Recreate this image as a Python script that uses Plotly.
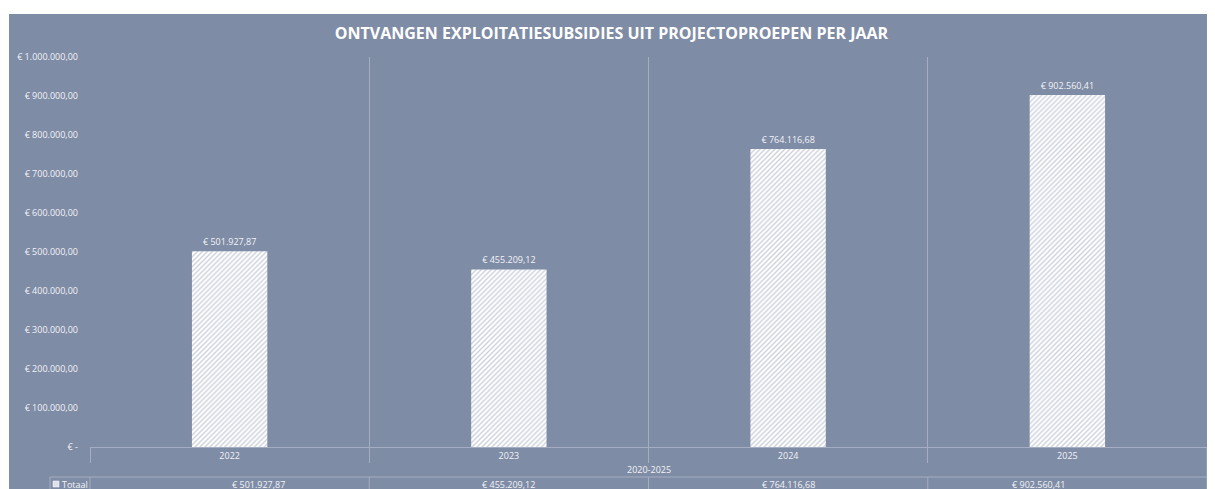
import plotly.graph_objects as go

categories = ["2022", "2023", "2024", "2025"]
values = [501927.87, 455209.12, 764116.68, 902560.41]
y_ticks = [0, 100000, 200000, 300000, 400000, 500000, 600000, 700000, 800000, 900000, 1000000]
group_label = "2020-2025"
series_name = "Totaal"
title_text = "ONTVANGEN EXPLOITATIESUBSIDIES UIT PROJECTOPROEPEN PER JAAR"


def euro(v):
    if v == 0:
        return "€ -"
    s = f"{v:,.2f}"
    s = s.replace(",", "X").replace(".", ",").replace("X", ".")
    return "€ " + s


PANEL = "#7F8CA6"
GRID = "#A4ADC1"
TXT = "#F2F3F6"
FONT = "Open Sans"

# page renders figure at an 8px body offset
OFF = 8
W, H = 1215 - OFF, 489 - OFF
PL, PR, PT, PB = 90, 1207, 57, 447  # plot area in reference pixels
L, R, T, B = PL - OFF, (1215 - PR), PT - OFF, (489 - PB)
pw = PR - PL
ph = PB - PT


def px_x(px):
    return (px - PL) / pw


def px_y(py):
    return (PB - py) / ph


fig = go.Figure()
fig.add_trace(go.Bar(
    x=categories, y=values, name=series_name,
    width=0.27,
    marker=dict(color="#FFFFFF", line=dict(width=0),
                pattern=dict(shape="/", fgcolor="#98A2B8", size=3.5, solidity=0.4)),
    text=[euro(v) for v in values], textposition="outside",
    textfont=dict(size=9, color=TXT, family=FONT),
    cliponaxis=False,
))

shapes = []
shapes.append(dict(type="rect", xref="paper", yref="paper",
                   x0=px_x(9), x1=px_x(1230), y0=px_y(500), y1=px_y(14),
                   fillcolor=PANEL, line=dict(width=0), layer="below"))
n = len(categories)
shapes.append(dict(type="line", xref="paper", yref="paper",
                   x0=px_x(50), x1=1, y0=px_y(477), y1=px_y(477),
                   line=dict(color=GRID, width=1)))
for i in range(n + 1):
    shapes.append(dict(type="line", xref="paper", yref="paper",
                       x0=i / n, x1=i / n, y0=px_y(477), y1=px_y(495),
                       line=dict(color=GRID, width=1)))
shapes.append(dict(type="line", xref="paper", yref="paper",
                   x0=px_x(50), x1=px_x(50), y0=px_y(477), y1=px_y(495),
                   line=dict(color=GRID, width=1)))
shapes.append(dict(type="line", xref="paper", yref="paper",
                   x0=1, x1=1, y0=0, y1=px_y(477),
                   line=dict(color=GRID, width=1)))
shapes.append(dict(type="rect", xref="paper", yref="paper",
                   x0=px_x(53), x1=px_x(59), y0=px_y(487), y1=px_y(481),
                   fillcolor="#DDE1E8", line=dict(color="#FFFFFF", width=0.5)))

annotations = []
annotations.append(dict(text=group_label, xref="paper", yref="paper",
                        x=0.5, y=px_y(469), showarrow=False,
                        font=dict(size=9, color=TXT, family=FONT), yanchor="middle"))
annotations.append(dict(text=series_name, xref="paper", yref="paper",
                        x=px_x(60), y=px_y(484), showarrow=False, xanchor="left",
                        font=dict(size=9, color=TXT, family=FONT), yanchor="middle"))
for i, v in enumerate(values):
    annotations.append(dict(text=euro(v), xref="paper", yref="paper",
                            x=(i + 0.5) / n, y=px_y(484), showarrow=False,
                            font=dict(size=9, color=TXT, family=FONT), yanchor="middle"))

fig.update_layout(
    width=W, height=H,
    margin=dict(l=L, r=R, t=T, b=B, pad=0),
    paper_bgcolor="#FFFFFF",
    plot_bgcolor="rgba(0,0,0,0)",
    showlegend=False,
    title=dict(text="<b>" + title_text + "</b>", x=0.5, xref="container", xanchor="center",
               y=1 - (33 - OFF) / H, yanchor="middle",
               font=dict(size=16, color="#FFFFFF", family=FONT)),
    xaxis=dict(type="category", tickson="boundaries", showgrid=True, gridcolor=GRID,
               gridwidth=1, ticks="outside", ticklen=15, tickcolor=GRID,
               showline=True, linecolor=GRID, linewidth=1,
               tickfont=dict(size=9, color=TXT, family=FONT),
               range=[-0.5, n - 0.5], fixedrange=True),
    yaxis=dict(range=[0, 1000000], tickvals=y_ticks, ticktext=[euro(v) for v in y_ticks],
               showgrid=False, zeroline=False, showline=False, ticks="",
               ticklabelstandoff=11,
               tickfont=dict(size=9, color=TXT, family=FONT), fixedrange=True),
    shapes=shapes,
    annotations=annotations,
)

fig.write_html("out.html")
